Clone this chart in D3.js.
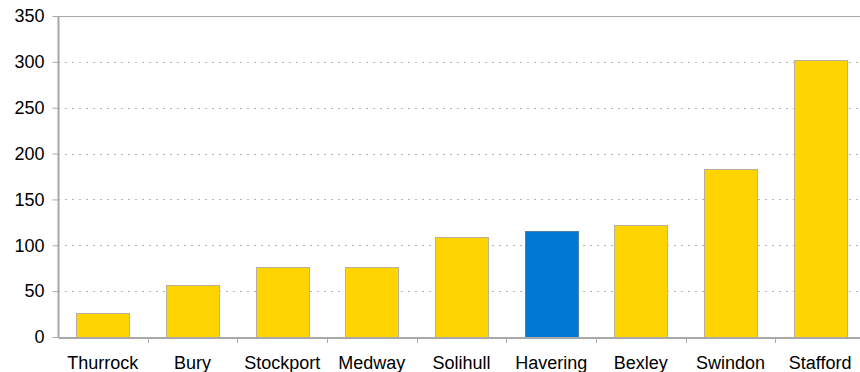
<!DOCTYPE html>
<html>
<head>
<meta charset="utf-8">
<script src="https://cdn.jsdelivr.net/npm/d3@7"></script>
<style>
  html, body { margin: 0; padding: 0; background: #fff; overflow: hidden; }
  svg { display: block; font-family: "Liberation Sans", Arial, sans-serif; }
</style>
</head>
<body>
<svg id="chart" width="860" height="372"></svg>
<script>
// Chart data
const categories = ["Thurrock", "Bury", "Stockport", "Medway", "Solihull", "Havering", "Bexley", "Swindon", "Stafford"];
const values = [26, 57, 76, 76, 109, 116, 122, 183, 302];
const highlight = ["Havering"];
const yTicks = [0, 50, 100, 150, 200, 250, 300, 350];

const svg = d3.select("#chart");
const margin = { left: 58, top: 16, bottom: 35 };
const plotRight = 865;
const height = 372;
const fontSize = 18;

const x = d3.scaleBand()
  .domain(categories)
  .range([margin.left, plotRight])
  .paddingInner(0.41)
  .paddingOuter(0.205);

const y = d3.scaleLinear()
  .domain([0, 350])
  .range([height - margin.bottom, margin.top]);

// Dotted horizontal gridlines
svg.append("g")
  .selectAll("line")
  .data(yTicks.filter(d => d > 0 && d < 350))
  .join("line")
  .attr("x1", margin.left)
  .attr("x2", plotRight)
  .attr("y1", d => Math.round(y(d)) + 0.5)
  .attr("y2", d => Math.round(y(d)) + 0.5)
  .attr("stroke", "#b4b4b4")
  .attr("stroke-width", 1)
  .attr("stroke-dasharray", "2,5");

// Top border of the plot area
svg.append("line")
  .attr("x1", margin.left)
  .attr("x2", plotRight)
  .attr("y1", Math.round(y(350)) + 0.5)
  .attr("y2", Math.round(y(350)) + 0.5)
  .attr("stroke", "#a8a8a8");

// Bars
svg.append("g")
  .selectAll("rect")
  .data(categories.map((c, i) => ({ c, v: values[i] })))
  .join("rect")
  .attr("x", d => Math.round(x(d.c)) + 0.5)
  .attr("y", d => Math.round(y(d.v)) + 0.5)
  .attr("width", Math.round(x.bandwidth()))
  .attr("height", d => Math.round(y(0)) - Math.round(y(d.v)))
  .attr("fill", d => highlight.includes(d.c) ? "#0078d4" : "#ffd400")
  .attr("stroke", d => highlight.includes(d.c) ? "#4a7fb0" : "#b8b09a")
  .attr("stroke-width", 1);

// Y axis
const yAxis = svg.append("g")
  .attr("transform", `translate(${margin.left + 0.5},0)`)
  .call(d3.axisLeft(y).tickValues(yTicks).tickSize(6).tickPadding(8).tickFormat(d3.format("d")));
yAxis.select(".domain").attr("stroke", "#a8a8a8").attr("stroke-width", 2).attr("d", `M0,${margin.top}V${y(0)}`);
yAxis.selectAll(".tick line").attr("stroke", "#a8a8a8");
yAxis.selectAll(".tick text").attr("font-size", fontSize).attr("fill", "#000")
  .attr("font-family", "'Liberation Sans', Arial, sans-serif");

// X axis
const xAxis = svg.append("g")
  .attr("transform", `translate(0,${Math.round(y(0)) + 0.5})`)
  .call(d3.axisBottom(x).tickSize(0).tickPadding(19));
xAxis.select(".domain").attr("stroke", "#a8a8a8").attr("stroke-width", 2);
xAxis.selectAll(".tick text").attr("font-size", fontSize).attr("fill", "#000")
  .attr("font-family", "'Liberation Sans', Arial, sans-serif");

// Category separator ticks on the x axis
const step = x.step();
svg.append("g")
  .selectAll("line")
  .data(d3.range(1, categories.length))
  .join("line")
  .attr("x1", i => Math.round(margin.left + i * step) + 0.5)
  .attr("x2", i => Math.round(margin.left + i * step) + 0.5)
  .attr("y1", Math.round(y(0)))
  .attr("y2", Math.round(y(0)) + 6)
  .attr("stroke", "#a8a8a8");
</script>
</body>
</html>
